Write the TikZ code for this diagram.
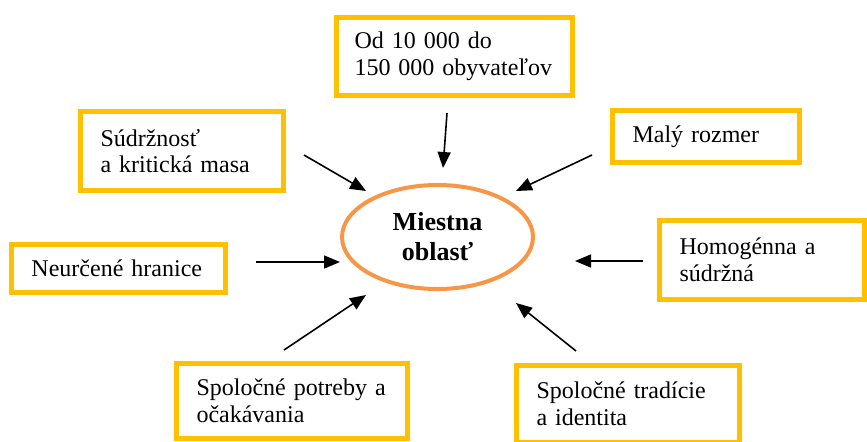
\documentclass[tikz,border=0pt]{standalone}
\usepackage{fontspec}
\setmainfont{Liberation Serif}
\usetikzlibrary{shapes.geometric,arrows.meta}
\definecolor{boxgold}{HTML}{FFC000}
\definecolor{ovalorange}{HTML}{F79646}
\begin{document}
\begin{tikzpicture}[x=0.5pt, y=-0.5pt, font=\fontsize{12}{13.3}\selectfont,
    infobox/.style={draw=boxgold, line width=2.5pt, rectangle, align=left, inner xsep=10pt, inner ysep=2pt},
    pointer/.style={-{Triangle[length=8pt,width=6.5pt]}, line width=0.8pt}] % pixel units
    \useasboundingbox (0,0) rectangle (867,441);
    % Draw central oval
    \node[ellipse, draw=ovalorange, line width=2pt, minimum width=95.5pt, minimum height=52pt, inner sep=0pt,
          align=center, font=\fontsize{13}{15}\selectfont\bfseries] (oblast) at (437.5,237) {Miestna\\oblasť};
    % Draw boxes around it
    \node[infobox, inner xsep=9pt, text width=100pt, minimum height=39pt] (obyv) at (454.5,56.5) {Od 10 000 do\\150 000 obyvateľov};
    \node[infobox, text width=81.5pt, minimum height=39.5pt] (sudrz) at (182,151) {Súdržnosť\\a kritická masa};
    \node[infobox, text width=73.5pt, minimum height=26pt] (rozmer) at (706,136.5) {Malý rozmer};
    \node[infobox, text width=87pt, minimum height=24pt] (hranice) at (118.5,268.5) {Neurčené hranice};
    \node[infobox, text width=82.5pt, minimum height=39.5pt] (homog) at (762,260) {Homogénna a\\súdržná};
    \node[infobox, text width=95.5pt, minimum height=37.5pt] (potreby) at (292,401) {Spoločné potreby a\\očakávania};
    \node[infobox, text width=91.5pt, minimum height=38.5pt] (tradicie) at (628,404) {Spoločné tradície\\a identita};
    % Arrow ends
    \coordinate (obyvA) at (447,113);   \coordinate (obyvB) at (443,168);
    \coordinate (sudrzA) at (304,155);  \coordinate (sudrzB) at (366,191);
    \coordinate (rozmerA) at (592,155); \coordinate (rozmerB) at (516,191);
    \coordinate (hranA) at (256,262);   \coordinate (hranB) at (340,262);
    \coordinate (homogA) at (643,261);  \coordinate (homogB) at (575,261);
    \coordinate (potrA) at (284,350);   \coordinate (potrB) at (366,295);
    \coordinate (tradA) at (576,351);   \coordinate (tradB) at (516,303);
    % Draw arrows towards the oval
    \draw[pointer] (obyvA) -- (obyvB);
    \draw[pointer] (sudrzA) -- (sudrzB);
    \draw[pointer] (rozmerA) -- (rozmerB);
    \draw[pointer] (hranA) -- (hranB);
    \draw[pointer] (homogA) -- (homogB);
    \draw[pointer] (potrA) -- (potrB);
    \draw[pointer] (tradA) -- (tradB);
\end{tikzpicture}
\end{document}
